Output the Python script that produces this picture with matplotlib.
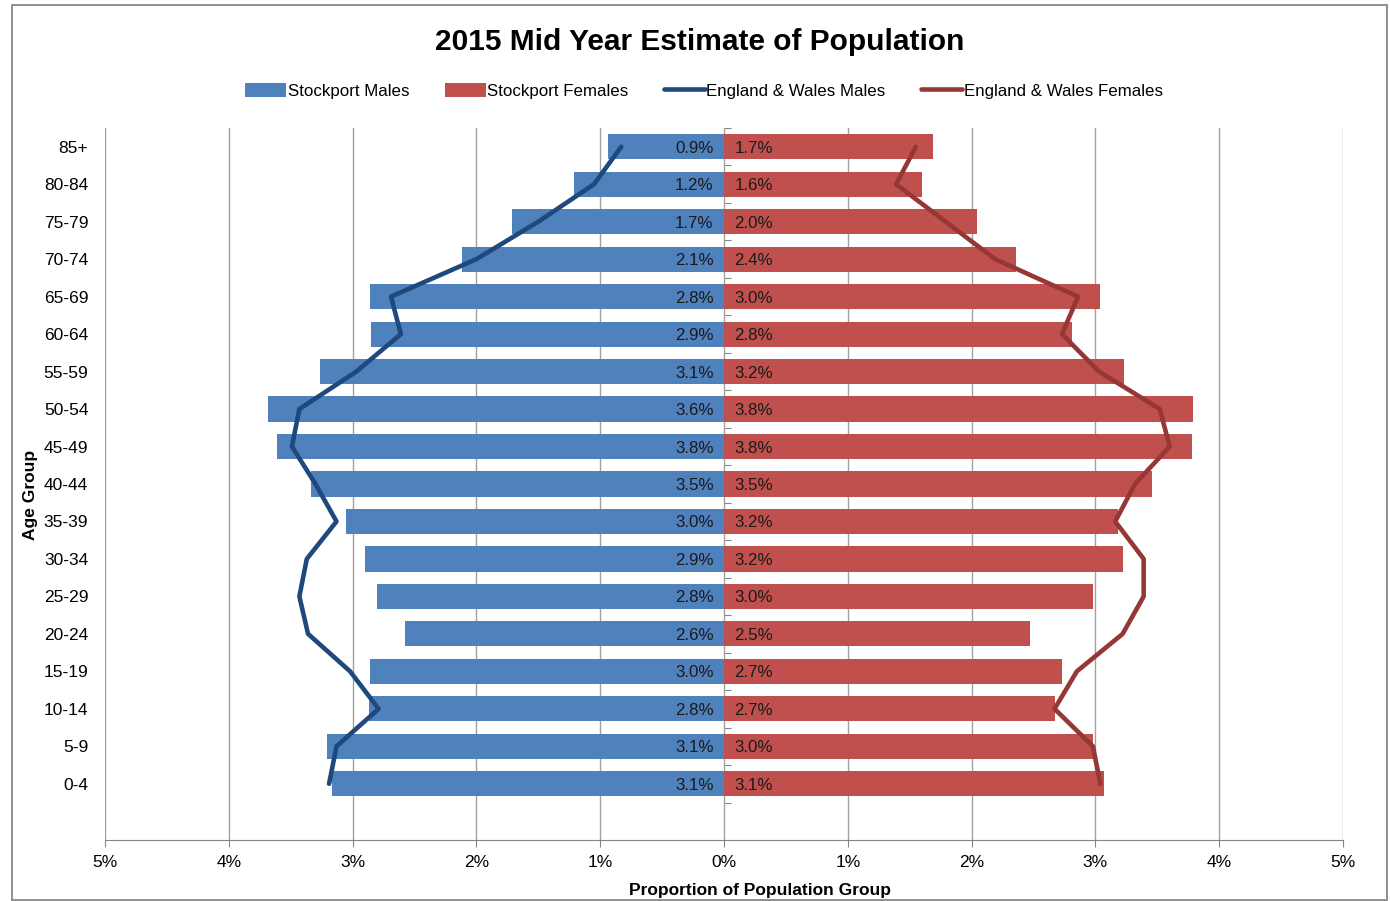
import numpy as np
import matplotlib.pyplot as plt
from matplotlib.patches import Rectangle
from matplotlib.ticker import FuncFormatter

plt.rcParams['font.family'] = ['Liberation Sans', 'DejaVu Sans']

# Data, bottom (0-4) to top (85+), values in percent
age_groups = ['0-4', '5-9', '10-14', '15-19', '20-24', '25-29', '30-34', '35-39', '40-44',
              '45-49', '50-54', '55-59', '60-64', '65-69', '70-74', '75-79', '80-84', '85+']
stockport_males = [3.17, 3.21, 2.87, 2.86, 2.58, 2.80, 2.90, 3.05, 3.34,
                   3.61, 3.68, 3.26, 2.85, 2.86, 2.12, 1.71, 1.21, 0.94]
stockport_females = [3.07, 2.98, 2.67, 2.73, 2.47, 2.98, 3.22, 3.18, 3.46,
                     3.78, 3.79, 3.23, 2.81, 3.04, 2.36, 2.04, 1.60, 1.685]
male_labels = ['3.1%', '3.1%', '2.8%', '3.0%', '2.6%', '2.8%', '2.9%', '3.0%', '3.5%',
               '3.8%', '3.6%', '3.1%', '2.9%', '2.8%', '2.1%', '1.7%', '1.2%', '0.9%']
female_labels = ['3.1%', '3.0%', '2.7%', '2.7%', '2.5%', '3.0%', '3.2%', '3.2%', '3.5%',
                 '3.8%', '3.8%', '3.2%', '2.8%', '3.0%', '2.4%', '2.0%', '1.6%', '1.7%']
ew_males = [3.19, 3.13, 2.79, 3.02, 3.36, 3.43, 3.37, 3.13, 3.30,
            3.49, 3.43, 2.97, 2.61, 2.69, 2.00, 1.50, 1.05, 0.83]
ew_females = [3.04, 2.98, 2.67, 2.85, 3.22, 3.39, 3.39, 3.16, 3.32,
              3.60, 3.52, 3.03, 2.73, 2.86, 2.19, 1.79, 1.39, 1.55]
x_ticks = [-5, -4, -3, -2, -1, 0, 1, 2, 3, 4, 5]

c_male = '#4F81BD'
c_female = '#C0504D'
c_ew_male = '#1F497D'
c_ew_female = '#953735'

fig = plt.figure(figsize=(13.9, 9.01), dpi=100)
ax = fig.add_axes([105 / 1390, 1 - 840 / 901, (1343 - 105) / 1390, (840 - 128) / 901])

y = np.arange(len(age_groups))
b1 = ax.barh(y, -np.array(stockport_males), height=0.67, color=c_male, label='Stockport Males', zorder=2)
b2 = ax.barh(y, stockport_females, height=0.67, color=c_female, label='Stockport Females', zorder=2)
l1, = ax.plot(-np.array(ew_males), y, color=c_ew_male, lw=3.3, label='England & Wales Males',
              zorder=4, solid_capstyle='round')
l2, = ax.plot(ew_females, y, color=c_ew_female, lw=3.3, label='England & Wales Females',
              zorder=4, solid_capstyle='round')

for i in range(len(age_groups)):
    ax.annotate(male_labels[i], (0, y[i]), xytext=(-7.5, 0), textcoords='offset points',
                ha='right', va='center_baseline', fontsize=12.2, color='#1a1a1a', zorder=3)
    ax.annotate(female_labels[i], (0, y[i]), xytext=(7.5, 0), textcoords='offset points',
                ha='left', va='center_baseline', fontsize=12.2, color='#1a1a1a', zorder=3)

ax.set_xlim(-5, 5)
ax.set_ylim(-1.5, 17.5)
ax.set_xticks(x_ticks)
ax.xaxis.set_major_formatter(FuncFormatter(lambda v, p: f'{abs(v):.0f}%'))
ax.set_yticks(y)
ax.set_yticklabels(age_groups)
ax.tick_params(axis='y', length=0, pad=12, labelsize=12.5)
ax.tick_params(axis='x', length=5, color='#868686', labelsize=12.5, pad=6)
ax.grid(axis='x', color='#a0a0a0', lw=1, zorder=0)
ax.set_axisbelow(True)
for s in ['left', 'right', 'top']:
    ax.spines[s].set_visible(False)
ax.spines['bottom'].set_color('#868686')

# small category ticks on the centre axis
sec = ax.secondary_yaxis(0.5)
sec.set_yticks(np.arange(-0.5, 17.6, 1))
sec.tick_params(length=5, color='#868686', labelleft=False, labelright=False)
sec.spines['left'].set_visible(False)
sec.spines['right'].set_visible(False)

ax.set_xlabel('Proportion of Population Group', fontsize=12.5, fontweight='bold')
ax.xaxis.set_label_coords(0.529, -0.06)
ax.set_ylabel('Age Group', fontsize=12.5, fontweight='bold')
ax.yaxis.set_label_coords(-0.054, 0.485)

fig.suptitle('2015 Mid Year Estimate of Population', x=700 / 1390, y=1 - 42 / 901,
             va='center', fontsize=21.5, fontweight='bold')
fig.legend([b1, b2, l1, l2], ['Stockport Males', 'Stockport Females',
                              'England & Wales Males', 'England & Wales Females'],
           loc='center', bbox_to_anchor=(704 / 1390, 1 - 91 / 901), ncol=4, frameon=False,
           fontsize=12.2, handlelength=2.4, handleheight=0.9, columnspacing=2.1, handletextpad=0.1)

fig.patches.append(Rectangle((12 / 1390, 0.001), (1387 - 12) / 1390, 1 - 5 / 901 - 0.001,
                             transform=fig.transFigure, fill=False, edgecolor='#878787', lw=1.3))

fig.savefig('out.png', dpi=100)
